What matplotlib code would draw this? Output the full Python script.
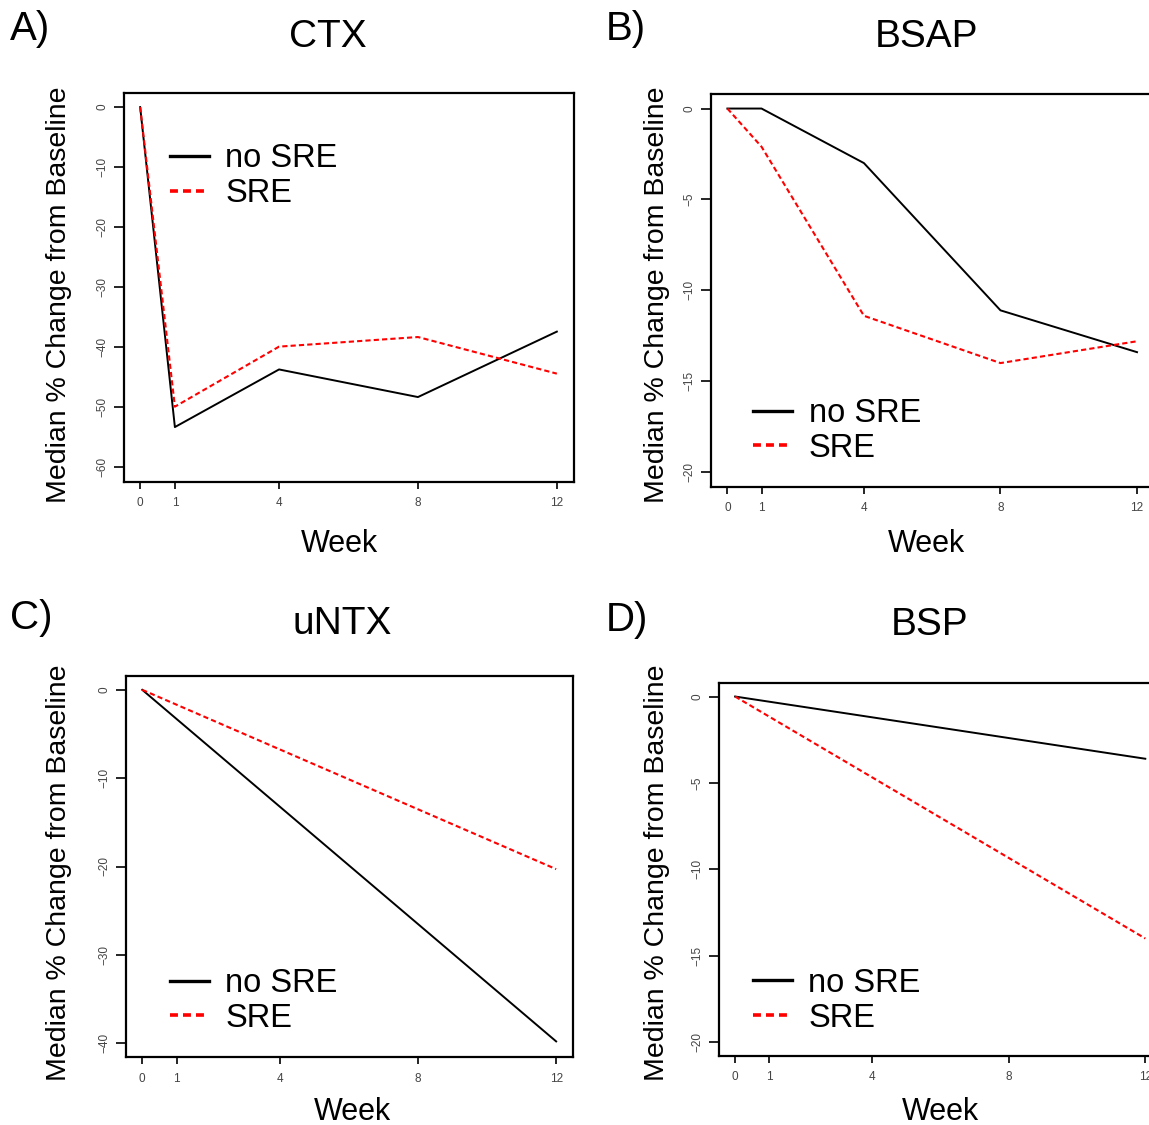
import matplotlib
matplotlib.use("Agg")
import matplotlib.pyplot as plt
from matplotlib.lines import Line2D

plt.rcParams['font.family'] = ['Liberation Sans', 'DejaVu Sans']

W, H = 1149, 1125

# data
weeks = [0, 1, 4, 8, 12]
ctx_no_sre = [0, -53.3, -43.7, -48.3, -37.4]
ctx_sre = [0, -49.9, -39.9, -38.3, -44.4]
bsap_no_sre = [0, 0, -3.0, -11.1, -13.4]
bsap_sre = [0, -2.1, -11.4, -14.0, -12.8]
lin_weeks = [0, 12]
untx_no_sre = [0, -39.8]
untx_sre = [0, -20.3]
bsp_no_sre = [0, -3.6]
bsp_sre = [0, -14.0]

titles = ["CTX", "BSAP", "uNTX", "BSP"]
letters = ["A)", "B)", "C)", "D)"]
yticks = [[0, -10, -20, -30, -40, -50, -60],
          [0, -5, -10, -15, -20],
          [0, -10, -20, -30, -40],
          [0, -5, -10, -15, -20]]
ylims = [(-60, 0), (-20, 0), (-40, 0), (-20, 0)]

fig = plt.figure(figsize=(W / 100, H / 100), dpi=100)


def box(l, t, r, b):
    return [l / W, 1 - b / H, (r - l) / W, (b - t) / H]


boxes = [box(123.5, 92.7, 573.5, 481.7), box(711, 94, 1153.4, 486.7),
         box(125.7, 675.7, 572.7, 1057.3), box(718.7, 682.7, 1161.7, 1056)]
series = [(weeks, ctx_no_sre, ctx_sre), (weeks, bsap_no_sre, bsap_sre),
          (lin_weeks, untx_no_sre, untx_sre), (lin_weeks, bsp_no_sre, bsp_sre)]
leg_pos = [(0.103, 0.870), (0.095, 0.226), (0.099, 0.234), (0.077, 0.236)]

title_xy = [(328, 37), (926, 37), (342, 624), (930, 625)]
letter_xy = [(10, 29), (606, 29), (10, 618), (606, 620)]
ylab_xy = [(59, 295), (657, 295), (59, 873), (657, 873)]
xlab_xy = [(339, 544), (926, 544), (352, 1112), (940, 1112)]

for i in range(4):
    ax = fig.add_axes(boxes[i])
    x, a, b = series[i]
    ax.plot(x, a, color='black', lw=1.4)
    ax.plot(x, b, color='red', lw=1.5, linestyle=(0, (2.5, 1.5)))
    lo, hi = ylims[i]
    pad = 0.04 * (hi - lo)
    ax.set_xlim(-0.48, 12.48)
    ax.set_ylim(lo - pad, hi + pad)
    ax.set_xticks(weeks)
    ax.set_yticks(yticks[i])
    ax.tick_params(axis='x', direction='out', length=5, width=1.2, pad=6,
                   labelsize=8.5, labelcolor='#444444')
    ax.tick_params(axis='y', direction='out', length=7, width=1.2, pad=4,
                   labelsize=8.5, labelcolor='#444444')
    for lab in ax.get_yticklabels():
        lab.set_rotation(90)
        lab.set_va('center')
    for s in ax.spines.values():
        s.set_linewidth(1.6)

    handles = [Line2D([], [], color='black', lw=2.4),
               Line2D([], [], color='red', lw=2.6, linestyle=(0, (2.2, 1.4)))]
    ax.legend(handles, ['no SRE', 'SRE'], loc='upper left',
              bbox_to_anchor=leg_pos[i], frameon=False, fontsize=23.5,
              handlelength=1.2, handletextpad=0.5, labelspacing=0.12,
              borderpad=0, borderaxespad=0)

    tx, ty = title_xy[i]
    fig.text(tx / W, 1 - ty / H, titles[i], fontsize=28, ha='center', va='center')
    lx, ly = letter_xy[i]
    fig.text(lx / W, 1 - ly / H, letters[i], fontsize=29, ha='left', va='center')
    yx, yy = ylab_xy[i]
    fig.text(yx / W, 1 - yy / H, 'Median % Change from Baseline', fontsize=20.5,
             rotation=90, ha='center', va='center')
    xx, xy = xlab_xy[i]
    fig.text(xx / W, 1 - xy / H, 'Week', fontsize=22, ha='center', va='center')

fig.savefig('out.png', dpi=100)
